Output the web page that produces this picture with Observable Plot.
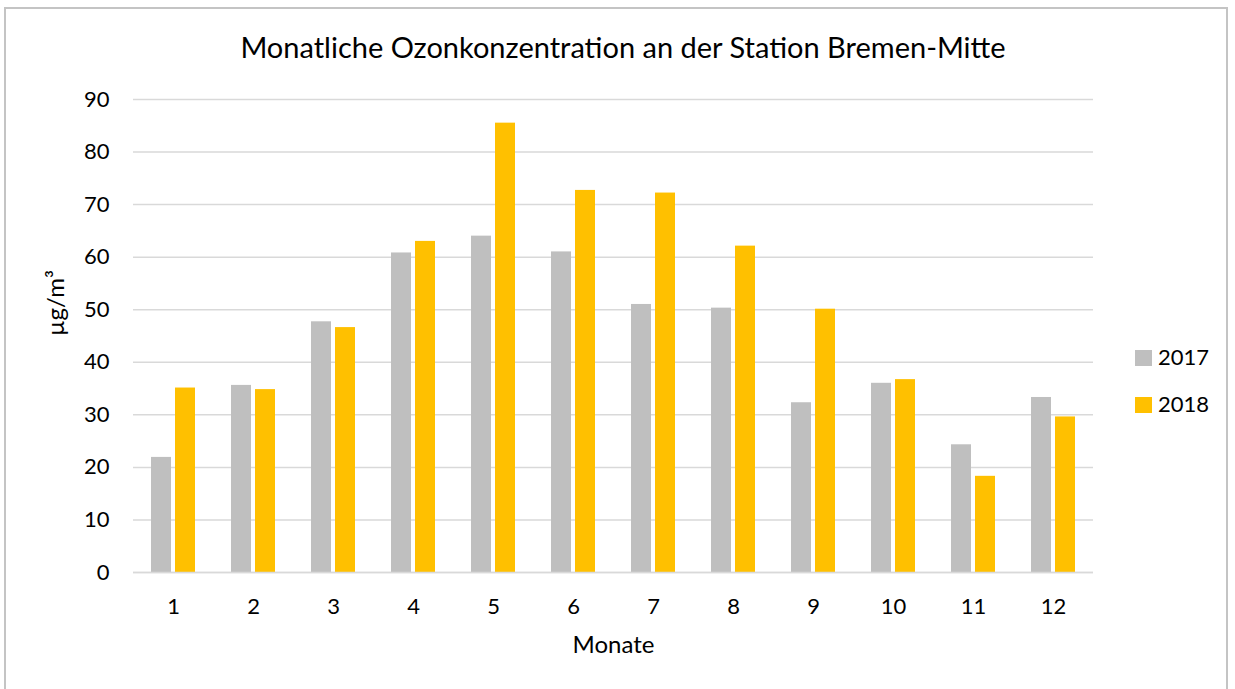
<!DOCTYPE html>
<html>
<head>
<meta charset="utf-8">
<script src="https://cdn.jsdelivr.net/npm/d3@7"></script>
<script src="https://cdn.jsdelivr.net/npm/@observablehq/plot@0.6"></script>
<style>
  html, body { margin: 0; padding: 0; background: #fff; }
  #wrap { position: relative; width: 1235px; height: 689px; overflow: hidden; font-family: Lato, "Open Sans", sans-serif; }
  #frame { position: absolute; left: 4px; top: 7px; width: 1224px; height: 700px; border: 2px solid #c4c4c4; box-sizing: border-box; }
  #title { position: absolute; left: 0; width: 1246px; top: 29px; line-height: 36px; text-align: center; font-size: 29px; color: #000; }
  #chart { position: absolute; left: 0; top: 0; }
  .lg { position: absolute; left: 1135px; font-size: 22px; color: #000; height: 20px; line-height: 20px; }
  .lg span.sw { position: absolute; left: 0; top: 2px; width: 17px; height: 16px; }
  .lg span.tx { position: absolute; left: 23px; top: -1px; }
</style>
</head>
<body>
<div id="wrap">
  <div id="frame"></div>
  <div id="chart"></div>
  <div id="title">Monatliche Ozonkonzentration an der Station Bremen-Mitte</div>
  <div id="legend"></div>
</div>
<script>
const months = [1, 2, 3, 4, 5, 6, 7, 8, 9, 10, 11, 12];
const values2017 = [21.9, 35.6, 47.7, 60.8, 64.0, 61.0, 51.0, 50.3, 32.3, 36.0, 24.3, 33.3];
const values2018 = [35.1, 34.8, 46.6, 63.0, 85.5, 72.7, 72.2, 62.1, 50.1, 36.7, 18.3, 29.6];
const years = ["2017", "2018"];
const colors = ["#bfbfbf", "#ffc000"];
const yTicks = [0, 10, 20, 30, 40, 50, 60, 70, 80, 90];
const xLabel = "Monate";
const yLabel = "µg/m³";

const d2017 = months.map((m, i) => ({month: m, value: values2017[i]}));
const d2018 = months.map((m, i) => ({month: m, value: values2018[i]}));

const chart = Plot.plot({
  width: 1235,
  height: 689,
  marginTop: 99,
  marginBottom: 117,
  marginLeft: 133,
  marginRight: 142,
  style: {fontFamily: "Lato, 'Open Sans', sans-serif", fontSize: "22px", color: "#000", background: "transparent"},
  x: {type: "band", domain: months, padding: 0},
  y: {domain: [0, 90]},
  marks: [
    Plot.gridY(yTicks, {stroke: "#d9d9d9", strokeOpacity: 1, strokeWidth: 1.5}),
    Plot.barY(d2017, {x: "month", y: "value", fill: colors[0], insetLeft: 18, insetRight: 42}),
    Plot.barY(d2018, {x: "month", y: "value", fill: colors[1], insetLeft: 42, insetRight: 18}),
    Plot.ruleY([0], {stroke: "#d9d9d9", strokeWidth: 1.5}),
    Plot.axisX({tickSize: 0, tickPadding: 26, label: null, fontSize: 22}),
    Plot.axisY(yTicks, {tickSize: 0, tickPadding: 24, label: null, fontSize: 22}),
    Plot.text([xLabel], {frameAnchor: "bottom", dy: 80, fontSize: 24, text: d => d}),
    Plot.text([yLabel], {frameAnchor: "left", dx: -77, rotate: -90, fontSize: 24, text: d => d})
  ]
});
document.getElementById("chart").appendChild(chart);

const legend = document.getElementById("legend");
const legendTops = [348, 395];
years.forEach((y, i) => {
  const row = document.createElement("div");
  row.className = "lg";
  row.style.top = legendTops[i] + "px";
  row.innerHTML = `<span class="sw" style="background:${colors[i]}"></span><span class="tx">${y}</span>`;
  legend.appendChild(row);
});
</script>
</body>
</html>
